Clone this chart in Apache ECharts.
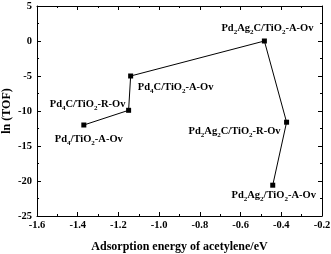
<!DOCTYPE html>
<html><head><meta charset="utf-8">
<script src="https://cdn.jsdelivr.net/npm/echarts@6/dist/echarts.min.js"></script>
<style>html,body{margin:0;padding:0;background:#fff}#c{width:331px;height:254px}</style>
</head><body><div id="c"></div>
<script>
var energies = [-1.37, -1.15, -1.14, -0.483, -0.374, -0.442];
var lnTOF = [-12.0, -9.9, -5.0, 0.0, -11.6, -20.6];
var names = ['Pd{s|4}/TiO{s|2}-A-Ov','Pd{s|4}C/TiO{s|2}-R-Ov','Pd{s|4}C/TiO{s|2}-A-Ov','Pd{s|2}Ag{s|2}C/TiO{s|2}-A-Ov','Pd{s|2}Ag{s|2}C/TiO{s|2}-R-Ov','Pd{s|2}Ag{s|2}/TiO{s|2}-A-Ov'];
var labelOffsets = [[5,14],[-41,-6],[45,11],[3,-13],[-52,9],[1,10]];
var xTicks = [-1.6,-1.4,-1.2,-1.0,-0.8,-0.6,-0.4,-0.2];
var yTicks = [5,0,-5,-10,-15,-20,-25];
var ff = '"Liberation Serif","Times New Roman",serif';
var data = energies.map(function(x,i){
  return {value:[x,lnTOF[i]], label:{show:true, position:'inside', offset:labelOffsets[i], formatter:names[i]}};
});
var chart = echarts.init(document.getElementById('c'));
function axisCommon(){
  return {
    axisLine:{show:true,onZero:false,lineStyle:{color:'#000',width:1}},
    axisTick:{show:true,inside:true,length:4,lineStyle:{color:'#000'}},
    minorTick:{show:true,splitNumber:2,length:2,lineStyle:{color:'#000'}},
    splitLine:{show:false}
  };
}
var xa = Object.assign(axisCommon(),{type:'value',min:-1.6,max:-0.2,interval:0.2,
  name:'Adsorption energy of acetylene/eV',nameLocation:'middle',nameGap:25,
  nameTextStyle:{fontFamily:ff,fontWeight:'bold',fontSize:12,color:'#000'},
  axisLabel:{fontFamily:ff,fontWeight:'bold',fontSize:10.5,color:'#000',margin:4,formatter:function(v){return v.toFixed(1);}}});
var xa2 = Object.assign(axisCommon(),{type:'value',min:-1.6,max:-0.2,interval:0.2,position:'top',axisLabel:{show:false}});
var ya = Object.assign(axisCommon(),{type:'value',min:-25,max:5,interval:5,
  name:'ln (TOF)',nameLocation:'middle',nameGap:24,nameMoveOverlap:false,
  nameTextStyle:{fontFamily:ff,fontWeight:'bold',fontSize:12,color:'#000'},
  axisLabel:{fontFamily:ff,fontWeight:'bold',fontSize:10.5,color:'#000',margin:5}});
var ya2 = Object.assign(axisCommon(),{type:'value',min:-25,max:5,interval:5,position:'right',axisLabel:{show:false}});
chart.setOption({
  animation:false,
  backgroundColor:'#fff',
  grid:{left:37,right:9,top:6,bottom:38,containLabel:false,outerBoundsMode:'none'},
  xAxis:[xa,xa2],
  yAxis:[ya,ya2],
  series:[{
    type:'line',xAxisIndex:0,yAxisIndex:0,
    data:data,
    symbol:'rect',symbolSize:5,
    lineStyle:{color:'#000',width:1},
    itemStyle:{color:'#000'},
    label:{fontFamily:ff,fontWeight:'bold',fontSize:10.5,color:'#000',
      rich:{s:{fontFamily:ff,fontWeight:'bold',fontSize:7,color:'#000',verticalAlign:'bottom',lineHeight:15}}}
  }]
});
</script></body></html>
